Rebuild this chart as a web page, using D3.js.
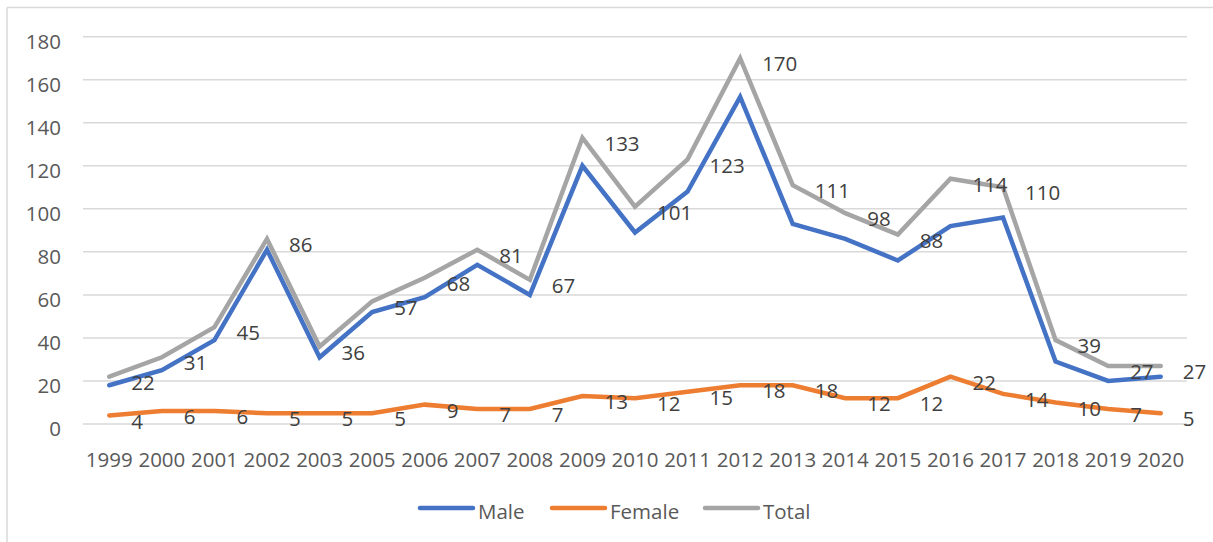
<!DOCTYPE html>
<html>
<head>
<meta charset="utf-8">
<script src="https://cdn.jsdelivr.net/npm/d3@7"></script>
<style>
  body { margin: 0; background: #fff; }
  svg { display: block; }
  text { font-family: "Open Sans", "Liberation Sans", sans-serif; }
</style>
</head>
<body>
<svg id="chart" width="1213" height="542"></svg>
<script>
// data
let years = ["1999","2000","2001","2002","2003","2005","2006","2007","2008","2009","2010",
             "2011","2012","2013","2014","2015","2016","2017","2018","2019","2020"];
let male   = [18, 25, 39, 81, 31, 52, 59, 74, 60, 120, 89, 108, 152, 93, 86, 76, 92, 96, 29, 20, 22];
let female = [4, 6, 6, 5, 5, 5, 9, 7, 7, 13, 12, 15, 18, 18, 12, 12, 22, 14, 10, 7, 5];
let total  = [22, 31, 45, 86, 36, 57, 68, 81, 67, 133, 101, 123, 170, 111, 98, 88, 114, 110, 39, 27, 27];
let yTicks = [0, 20, 40, 60, 80, 100, 120, 140, 160, 180];

let series = [
    {name: "Male", values: male, color: "#4472C4", labels: false},
    {name: "Female", values: female, color: "#ED7D31", labels: true},
    {name: "Total", values: total, color: "#A5A5A5", labels: true}
];

let svg = d3.select("#chart");
let plotL = 83, plotR = 1187, plotT = 36.7, plotB = 424;
let fs = 20.5;

// frame (top + left edges only)
svg.append("line").attr("x1", 7).attr("x2", 1213).attr("y1", 7.5).attr("y2", 7.5)
    .attr("stroke", "#d9d9d9").attr("stroke-width", 1.5);
svg.append("line").attr("x1", 7).attr("x2", 7).attr("y1", 7.5).attr("y2", 542)
    .attr("stroke", "#d9d9d9").attr("stroke-width", 1.5);

let x = d3.scaleBand().domain(years).range([plotL, plotR]);
let y = d3.scaleLinear().domain([0, 180]).range([plotB, plotT]);
let cx = d => x(d) + x.bandwidth() / 2;

// gridlines
svg.append("g").selectAll("line").data(yTicks).enter().append("line")
    .attr("x1", plotL).attr("x2", plotR)
    .attr("y1", d => y(d)).attr("y2", d => y(d))
    .attr("stroke", "#d9d9d9").attr("stroke-width", 1.5);

// y axis labels
let yAxis = d3.axisLeft(y).tickValues(yTicks).tickSize(0).tickPadding(0);
let gy = svg.append("g").attr("transform", "translate(61,5)").call(yAxis);
gy.select(".domain").remove();
gy.selectAll("text").attr("font-size", fs).attr("fill", "#595959")
    .attr("font-family", "'Open Sans', 'Liberation Sans', sans-serif");

// x axis labels
let xAxis = d3.axisBottom(x).tickSize(0).tickPadding(0);
let gx = svg.append("g").attr("transform", "translate(0,452)").call(xAxis);
gx.select(".domain").remove();
gx.selectAll("text").attr("font-size", fs).attr("fill", "#595959")
    .attr("font-family", "'Open Sans', 'Liberation Sans', sans-serif");

// lines
let line = d3.line().x((d, i) => cx(years[i])).y(d => y(d));
series.forEach(s => {
    svg.append("path").datum(s.values).attr("d", line)
        .attr("fill", "none").attr("stroke", s.color).attr("stroke-width", 4.5)
        .attr("stroke-linejoin", "miter").attr("stroke-linecap", "round");
});

// data labels (right of point)
series.filter(s => s.labels).forEach(s => {
    svg.append("g").selectAll("text").data(s.values).enter().append("text")
        .attr("x", (d, i) => cx(years[i]) + 22)
        .attr("y", d => y(d) + 6)
        .attr("dy", "0.35em")
        .attr("font-size", fs).attr("fill", "#404040")
        .text(d => d);
});

// legend
let legendX = [420, 552, 705];
let lg = svg.append("g").selectAll("g").data(series).enter().append("g")
    .attr("transform", (d, i) => "translate(" + legendX[i] + ",508)");
lg.append("line").attr("x1", 0).attr("x2", 53).attr("y1", 0).attr("y2", 0)
    .attr("stroke", d => d.color).attr("stroke-width", 4.5).attr("stroke-linecap", "round");
lg.append("text").attr("x", 58).attr("y", 4).attr("dy", "0.35em")
    .attr("font-size", fs).attr("fill", "#595959").text(d => d.name);
</script>
</body>
</html>
